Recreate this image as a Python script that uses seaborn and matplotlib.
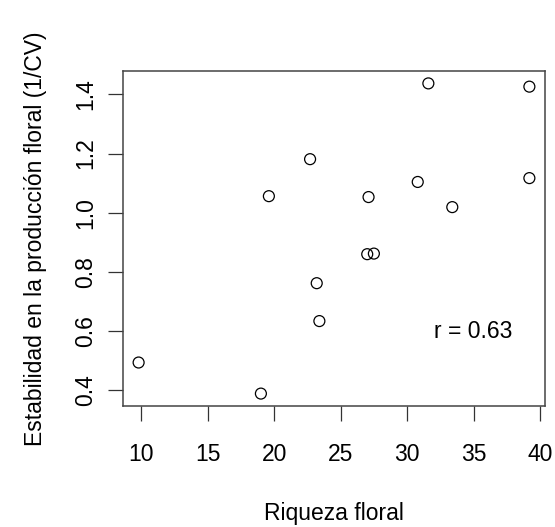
import pandas as pd
import matplotlib
matplotlib.use("Agg")
import matplotlib.pyplot as plt
import seaborn as sns

# values
riqueza = [9.8, 19.0, 19.6, 22.7, 23.2, 23.4, 27.0, 27.5, 27.1, 30.8, 31.6, 33.4, 39.2, 39.2]
estabilidad = [0.494, 0.389, 1.056, 1.181, 0.762, 0.634, 0.860, 0.862, 1.053, 1.104, 1.437, 1.019, 1.426, 1.117]
x_ticks = [10, 15, 20, 25, 30, 35, 40]
y_ticks = [0.4, 0.6, 0.8, 1.0, 1.2, 1.4]
y_ticklabels = ["0.4", "0.6", "0.8", "1.0", "1.2", "1.4"]
r_label = "r = 0.63"
r_pos = (35, 0.6)

df = pd.DataFrame({"riqueza": riqueza, "estabilidad": estabilidad})

sns.set_style("white")
plt.rcParams["font.family"] = ["Liberation Sans", "DejaVu Sans"]
plt.rcParams["text.color"] = "black"
plt.rcParams["axes.labelcolor"] = "black"
plt.rcParams["xtick.color"] = "black"
plt.rcParams["ytick.color"] = "black"

fig = plt.figure(figsize=(5.55, 5.27), dpi=100)
ax = fig.add_axes([0.2216, 0.2296, 0.7604, 0.6357])

sns.scatterplot(data=df, x="riqueza", y="estabilidad", ax=ax,
                marker="o", s=62, facecolor="none", edgecolor="black",
                linewidth=0.9)

# R style 4% padding
xr = max(riqueza) - min(riqueza)
yr = max(estabilidad) - min(estabilidad)
ax.set_xlim(min(riqueza) - 0.04 * xr, max(riqueza) + 0.04 * xr)
ax.set_ylim(min(estabilidad) - 0.04 * yr, max(estabilidad) + 0.04 * yr)

ax.set_xticks(x_ticks)
ax.set_yticks(y_ticks)
ax.set_yticklabels(y_ticklabels, rotation=90, va="center")
ax.tick_params(axis="both", direction="out", length=10.5, width=0.9,
               color="#333333", labelsize=16.5, bottom=True, left=True)
ax.tick_params(axis="x", pad=16)
ax.tick_params(axis="y", pad=8)

for sp in ax.spines.values():
    sp.set_color("#444444")
    sp.set_linewidth(1.1)

ax.set_xlabel("Riqueza floral", fontsize=16.5, labelpad=26)
ax.set_ylabel("Estabilidad en la producción floral (1/CV)", fontsize=16.5, labelpad=20)

ax.text(r_pos[0], r_pos[1], r_label, ha="center", va="center", fontsize=16.5)

fig.savefig("out.png", dpi=100)
